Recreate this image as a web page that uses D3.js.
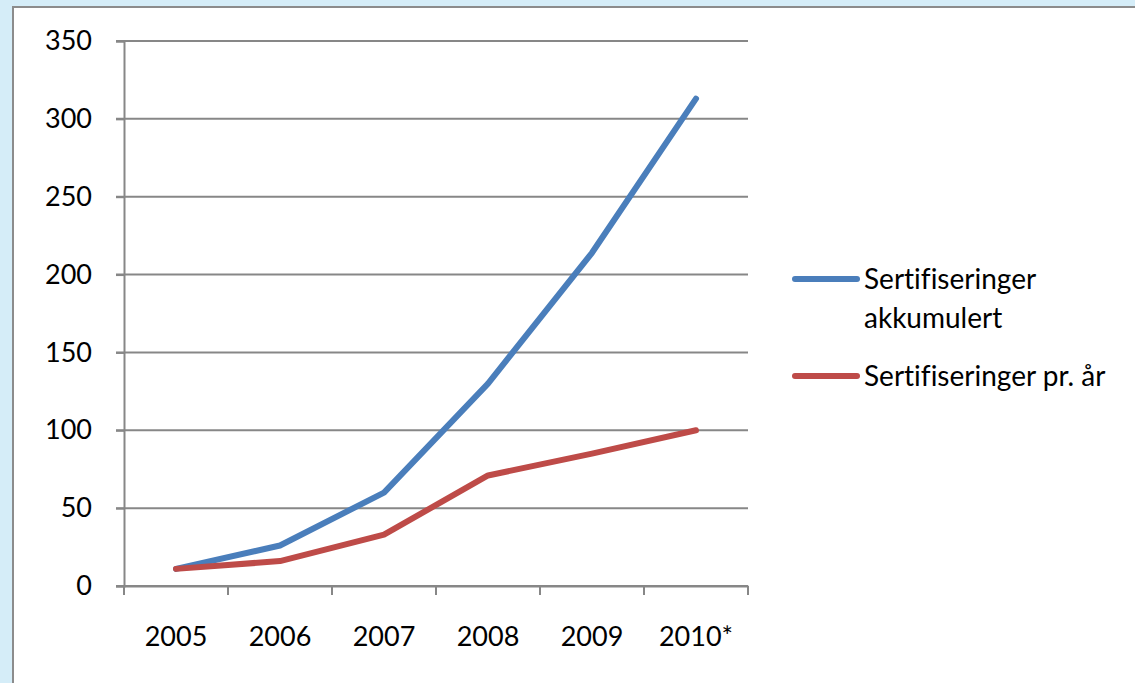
<!DOCTYPE html>
<meta charset="utf-8">
<script src="https://cdn.jsdelivr.net/npm/d3@7"></script>
<style>
  body { margin: 0; background: #d5edf8; }
  svg { display: block; font-family: Lato, "Open Sans", sans-serif; font-variant-ligatures: none; }
</style>
<div id="chart"></div>
<script>
// data
var years = ["2005", "2006", "2007", "2008", "2009", "2010*"];
var akkumulert = [11, 26, 60, 130, 214, 313];
var perAar = [11, 16, 33, 71, 85, 100];
var yTicks = [0, 50, 100, 150, 200, 250, 300, 350];
var seriesNames = [["Sertifiseringer", "akkumulert"], ["Sertifiseringer pr. år"]];
var colors = ["#4a7ebb", "#be4b48"];

var W = 1135, H = 683;
var svg = d3.select("#chart").append("svg")
  .attr("width", W).attr("height", H);

// white panel with grey frame
svg.append("rect")
  .attr("x", 13).attr("y", 7).attr("width", W).attr("height", H)
  .attr("fill", "#fff").attr("stroke", "#8c8c8c").attr("stroke-width", 2);

var mLeft = 124, mRight = 748, mTop = 41, mBottom = 586;

var x = d3.scaleBand().domain(years).range([mLeft, mRight]);
var y = d3.scaleLinear().domain([0, 350]).range([mBottom, mTop]);

// gridlines
svg.append("g").selectAll("line")
  .data(yTicks)
  .enter().append("line")
    .attr("x1", mLeft - 8).attr("x2", mRight)
    .attr("y1", function(d) { return y(d); })
    .attr("y2", function(d) { return y(d); })
    .attr("stroke", "#878787").attr("stroke-width", 2);

// y axis
var yAxis = svg.append("g")
  .attr("transform", "translate(" + mLeft + ",0)")
  .call(d3.axisLeft(y).tickValues(yTicks).tickSize(8).tickPadding(24));
yAxis.select(".domain").attr("stroke", "#878787").attr("stroke-width", 2);
yAxis.selectAll(".tick line").attr("stroke", "#878787").attr("stroke-width", 2);
yAxis.selectAll("text").attr("font-size", 27).attr("fill", "#000")
  .attr("font-family", "Lato, sans-serif");

// x axis
var xAxis = svg.append("g")
  .attr("transform", "translate(0," + mBottom + ")")
  .call(d3.axisBottom(x).tickSize(0).tickPadding(41));
xAxis.select(".domain").attr("stroke", "#878787").attr("stroke-width", 2);
xAxis.selectAll("text").attr("font-size", 27).attr("fill", "#000")
  .attr("font-family", "Lato, sans-serif");

// category tick marks at band boundaries
var bounds = years.map(function(d) { return x(d); }).concat([mRight]);
svg.append("g").selectAll("line")
  .data(bounds)
  .enter().append("line")
    .attr("x1", function(d) { return d; }).attr("x2", function(d) { return d; })
    .attr("y1", mBottom).attr("y2", mBottom + 9)
    .attr("stroke", "#878787").attr("stroke-width", 2);

var line = d3.line()
  .x(function(d, i) { return x(years[i]) + x.bandwidth() / 2; })
  .y(function(d) { return y(d); });

[akkumulert, perAar].forEach(function(s, k) {
  svg.append("path")
    .attr("d", line(s))
    .attr("fill", "none")
    .attr("stroke", colors[k])
    .attr("stroke-width", 6)
    .attr("stroke-linecap", "round")
    .attr("stroke-linejoin", "round");
});

// legend
var legendY = [279, 376];
seriesNames.forEach(function(lines, k) {
  svg.append("line")
    .attr("x1", 795).attr("x2", 857)
    .attr("y1", legendY[k]).attr("y2", legendY[k])
    .attr("stroke", colors[k]).attr("stroke-width", 6)
    .attr("stroke-linecap", "round");
  var t = svg.append("text")
    .attr("x", 864).attr("y", legendY[k] + 10)
    .attr("font-size", 28).attr("fill", "#000");
  lines.forEach(function(l, j) {
    t.append("tspan").attr("x", 864).attr("dy", j ? 39 : 0).text(l);
  });
});
</script>
